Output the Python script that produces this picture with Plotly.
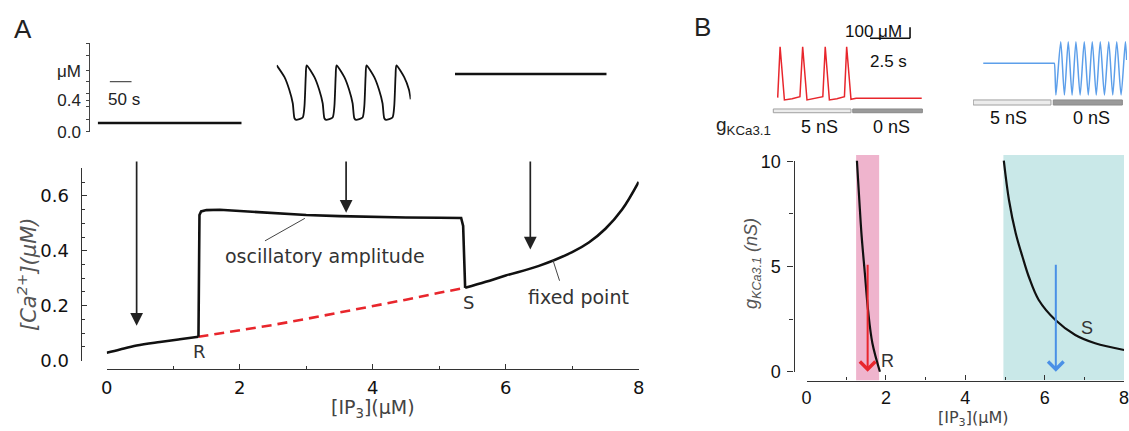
import plotly.graph_objects as go

W, H = 1129, 431
def fx(px): return px / W
def fy(py): return 1 - py / H

# ---------------- Panel A: bifurcation diagram data ----------------
ip3_stable_low = [0.0, 0.2, 0.45, 0.8, 1.1, 1.38]
ca_stable_low = [0.029, 0.041, 0.055, 0.068, 0.078, 0.087]

ip3_unstable = [1.38, 2.0, 2.5, 3.0, 3.5, 4.0, 4.5, 5.0, 5.39]
ca_unstable = [0.087, 0.110, 0.130, 0.152, 0.175, 0.198, 0.222, 0.247, 0.265]

ip3_stable_high = [5.39, 5.7, 6.0, 6.5, 7.0, 7.25, 7.5, 7.75, 8.0]
ca_stable_high = [0.265, 0.287, 0.310, 0.345, 0.395, 0.430, 0.480, 0.550, 0.651]

ip3_osc = [1.38, 1.385, 1.395, 1.42, 1.5, 1.7, 2.0, 2.5, 3.0, 3.5, 4.0, 4.5, 5.0, 5.33, 5.36, 5.39]
ca_osc_max = [0.087, 0.35, 0.53, 0.543, 0.548, 0.549, 0.544, 0.536, 0.530, 0.526, 0.523, 0.521, 0.520, 0.519, 0.49, 0.265]

arrow_ip3 = [0.45, 3.6, 6.37]
arrow_tip_ca = [0.127, 0.538, 0.405]
arrow_tail_ca = 0.73

# ---------------- Panel A: time-course insets ----------------
t_low = [0, 332]
c_low = [0.11, 0.11]

t_osc = [0, 18, 29, 37, 41, 45, 60, 64, 67,
         69, 87, 98, 106, 110, 114, 129, 133, 136,
         138, 156, 167, 175, 179, 183, 198, 202, 205,
         207, 225, 236, 244, 248, 252, 267, 271, 274,
         276, 294, 305, 309]
c_osc = [0.84, 0.69, 0.53, 0.36, 0.17, 0.15, 0.18, 0.32, 0.70,
         0.84, 0.69, 0.53, 0.36, 0.17, 0.15, 0.18, 0.32, 0.70,
         0.84, 0.69, 0.53, 0.36, 0.17, 0.15, 0.18, 0.32, 0.70,
         0.84, 0.69, 0.53, 0.36, 0.17, 0.15, 0.18, 0.32, 0.70,
         0.84, 0.69, 0.53, 0.41]

t_high = [0, 350]
c_high = [0.73, 0.73]

inset_tickvals = [0, 0.4, 0.77]
inset_ticktext = ["0.0", "0.4", "μM"]
timebar_s = [28, 78]          # 50 s scale bar
timebar_c = 0.633

# ---------------- Panel B: time-course insets ----------------
t_red = [0, 0.15, 0.42, 0.9, 1.39, 1.56, 1.83, 2.3, 2.82, 2.97, 3.23, 3.7, 4.17, 4.31, 4.58, 4.9, 9.0]
c_red = [185, 648, 164, 175, 194, 648, 164, 175, 194, 648, 164, 175, 194, 648, 170, 179, 179]

t_blue = [0, 4.40, 4.44, 4.54, 4.84, 5.07, 5.31, 5.55, 5.79, 6.05, 6.31, 6.56, 6.81, 7.06, 7.31,
          7.57, 7.84, 8.09, 8.34, 8.61, 8.88, 8.96]
c_blue = [497, 497, 497, 209, 694, 209, 694, 209, 694, 209, 694, 209, 694, 209, 694,
          209, 694, 209, 694, 209, 694, 527]

# g_KCa3.1 protocol bars (time spans in each inset)
red_on = [-0.275, 4.58]
red_off = [4.69, 9.04]
red_bar_c = [48, 82]
blue_on = [-0.625, 4.23]
blue_off = [4.375, 8.69]
blue_bar_c = [118, 164]

scale_t = [5.77, 8.27]   # 2.5 s
scale_c = [725, 825]     # 100 uM

# ---------------- Panel B: g_KCa3.1 vs IP3 ----------------
ip3_R = [1.27, 1.33, 1.39, 1.47, 1.55, 1.66, 1.85]
g_R = [10, 8.14, 6.4, 4.66, 2.92, 1.35, 0]
ip3_S = [4.97, 5.1, 5.27, 5.44, 5.6, 5.85, 6.27, 6.77, 7.27, 8.0]
g_S = [10, 8.14, 6.56, 5.45, 4.5, 3.4, 2.45, 1.74, 1.35, 1.03]
band_R = [1.25, 1.83]
band_S = [4.96, 8.0]
arrowB_ip3 = [1.54, 6.28]
arrowB_from = 5.14
arrowB_to = 0.0

# ---------------- styling ----------------
DV = "DejaVu Sans"
AR = "Liberation Sans, Arial"
AXC = "#333333"
RED = "#e8262c"
BLUE = "#5d9fea"
BLUE_ARR = "#4a90e6"

fig = go.Figure()

# Panel A main
fig.add_trace(go.Scatter(x=ip3_unstable, y=ca_unstable, mode="lines",
                         line=dict(color=RED, width=2.6, dash="10px,6px"), xaxis="x", yaxis="y"))
fig.add_trace(go.Scatter(x=ip3_stable_low, y=ca_stable_low, mode="lines",
                         line=dict(color="#111", width=2.6, shape="spline"), xaxis="x", yaxis="y"))
fig.add_trace(go.Scatter(x=ip3_stable_high, y=ca_stable_high, mode="lines",
                         line=dict(color="#111", width=2.6, shape="spline", smoothing=1.0), xaxis="x", yaxis="y"))
fig.add_trace(go.Scatter(x=ip3_osc, y=ca_osc_max, mode="lines",
                         line=dict(color="#111", width=2.6), xaxis="x", yaxis="y"))
fig.add_trace(go.Scatter(x=[None], y=[None], xaxis="x", yaxis="y2"))

# Panel A insets
fig.add_trace(go.Scatter(x=t_low, y=c_low, mode="lines", line=dict(color="#111", width=2.6),
                         xaxis="x3", yaxis="y3"))
fig.add_trace(go.Scatter(x=t_osc, y=c_osc, mode="lines", line=dict(color="#111", width=1.8, shape="spline", smoothing=0.6),
                         xaxis="x4", yaxis="y3"))
fig.add_trace(go.Scatter(x=t_high, y=c_high, mode="lines", line=dict(color="#111", width=2.6),
                         xaxis="x5", yaxis="y3"))

# Panel B insets
fig.add_trace(go.Scatter(x=t_red, y=c_red, mode="lines", line=dict(color=RED, width=1.5),
                         xaxis="x6", yaxis="y6"))
fig.add_trace(go.Scatter(x=t_blue, y=c_blue, mode="lines", line=dict(color=BLUE, width=1.5, shape="spline", smoothing=0.7),
                         xaxis="x7", yaxis="y6"))

# Panel B main
fig.add_trace(go.Scatter(x=ip3_R, y=g_R, mode="lines", line=dict(color="#111", width=2.2, shape="spline"),
                         xaxis="x8", yaxis="y8"))
fig.add_trace(go.Scatter(x=ip3_S, y=g_S, mode="lines", line=dict(color="#111", width=2.2, shape="spline"),
                         xaxis="x8", yaxis="y8"))
fig.add_trace(go.Scatter(x=[None], y=[None], xaxis="x8", yaxis="y9"))

fig.update_traces(showlegend=False, hoverinfo="skip")

# ---- axes ----
A_ylo = -(369.3 - 360.7) / 275.0
B_ylo = -(380.5 - 371.7) / 21.1
B_yhi = (371.7 - 155.0) / 21.1
INS_B_PX = 0.11          # px per uM in panel-B insets

common_x = dict(showgrid=False, zeroline=False, automargin=False)
layout_axes = dict(
    xaxis=dict(domain=[fx(106.7), fx(638.7)], range=[0, 8], anchor="y", showline=True,
               linecolor=AXC, linewidth=1.3, ticks="inside", ticklen=5, tickwidth=1.3, tickcolor=AXC,
               tickvals=[0, 2, 4, 6, 8], ticktext=["0", "2", "4", "6", "8"],
               minor=dict(tickvals=[1, 3, 5, 7], ticks="inside", ticklen=3, tickcolor=AXC, tickwidth=1.1),
               tickfont=dict(family=DV, size=18, color="#111"), ticklabelstandoff=2, **common_x),
    yaxis=dict(domain=[fy(369.3), fy(168.3)], range=[A_ylo, 0.70], anchor="x", visible=False, **common_x),
    yaxis2=dict(domain=[fy(360.7), fy(168.3)], range=[0, 0.70], anchor="free", position=fx(80.7),
                showline=True, linecolor=AXC, linewidth=1.3, ticks="inside", ticklen=5, tickwidth=1.3,
                tickcolor=AXC, tickvals=[0, 0.2, 0.4, 0.6], ticktext=["0.0", "0.2", "0.4", "0.6"],
                minor=dict(tickvals=[0.05, 0.1, 0.15, 0.25, 0.3, 0.35, 0.45, 0.5, 0.55, 0.65, 0.7],
                           ticks="inside", ticklen=3, tickcolor=AXC, tickwidth=1.1),
                tickfont=dict(family=DV, size=18, color="#111"), ticklabelstandoff=8, **common_x),
    # Panel A insets
    yaxis3=dict(domain=[fy(131.7), fy(42.7)], range=[0, 1.127], anchor="free", position=fx(89.3),
                showline=True, linecolor="#444", linewidth=1.1, ticks="outside", ticklen=3, tickcolor="#444",
                tickvals=inset_tickvals, ticktext=inset_ticktext,
                minor=dict(tickvals=[0.16, 0.32, 0.48, 0.64, 0.96, 1.12], ticks="outside", ticklen=3, tickcolor="#444"),
                tickfont=dict(family=AR, size=17, color="#222"), ticklabelstandoff=2, **common_x),
    xaxis3=dict(domain=[fx(97.7), fx(241.7)], range=[0, 332], anchor="y3", visible=False, **common_x),
    xaxis4=dict(domain=[fx(276.7), fx(410.7)], range=[0, 309], anchor="y3", visible=False, **common_x),
    xaxis5=dict(domain=[fx(455.0), fx(606.7)], range=[0, 350], anchor="y3", visible=False, **common_x),
    # Panel B insets
    yaxis6=dict(domain=[fy(142), fy(20)], range=[-24 / INS_B_PX, 98 / INS_B_PX], anchor="x6", visible=False, **common_x),
    xaxis6=dict(domain=[fx(761.7), fx(923)], range=[-1.0, 9.08], anchor="y6", visible=False, **common_x),
    xaxis7=dict(domain=[fx(973), fx(1127)], range=[-0.64, 8.98], anchor="y6", visible=False, **common_x),
    # Panel B main
    xaxis8=dict(domain=[fx(806.5), fx(1124.1)], range=[0, 8], anchor="y8", showline=True,
                linecolor=AXC, linewidth=1.3, ticks="inside", ticklen=5, tickwidth=1.3, tickcolor=AXC,
                tickvals=[0, 2, 4, 6, 8], ticktext=["0", "2", "4", "6", "8"], ticklabeloverflow="allow",
                minor=dict(tickvals=[1, 3, 5, 7], ticks="inside", ticklen=3, tickcolor=AXC, tickwidth=1.1),
                tickfont=dict(family=AR, size=18, color="#111"), ticklabelstandoff=1, **common_x),
    yaxis8=dict(domain=[fy(380.5), fy(155)], range=[B_ylo, B_yhi], anchor="x8", visible=False, **common_x),
    yaxis9=dict(domain=[fy(371.7), fy(161.2)], range=[0, 10], anchor="free", position=fx(793.5),
                showline=True, linecolor=AXC, linewidth=1.3, ticks="outside", ticklen=6, tickwidth=1.3,
                tickcolor=AXC, tickvals=[0, 5, 10], ticktext=["0", "5", "10"],
                minor=dict(tickvals=[2.5, 7.5], ticks="outside", ticklen=4, tickcolor=AXC, tickwidth=1.1),
                tickfont=dict(family=AR, size=18, color="#111"), ticklabelstandoff=3, **common_x),
)

shapes = []
# bands (panel B)
shapes.append(dict(type="rect", xref="x8", yref="y8", x0=band_R[0], x1=band_R[1], y0=B_ylo, y1=B_yhi,
                   fillcolor="#efb4cd", line=dict(width=0), layer="below"))
shapes.append(dict(type="rect", xref="x8", yref="y8", x0=band_S[0], x1=band_S[1], y0=B_ylo, y1=B_yhi,
                   fillcolor="#c9e8e8", line=dict(width=0), layer="below"))
# leader lines (panel A)
shapes.append(dict(type="line", xref="x", yref="y", x0=2.38, y0=0.436, x1=2.98, y1=0.518,
                   line=dict(color="#444", width=1)))
shapes.append(dict(type="line", xref="x", yref="y", x0=6.81, y0=0.291, x1=6.71, y1=0.366,
                   line=dict(color="#444", width=1)))
# 50 s bar
shapes.append(dict(type="line", xref="x3", yref="y3", x0=timebar_s[0], x1=timebar_s[1], y0=timebar_c, y1=timebar_c,
                   line=dict(color="#555", width=1.2)))
# protocol bars
for xr, span, cy in [("x6", red_on, red_bar_c), ("x7", blue_on, blue_bar_c)]:
    shapes.append(dict(type="rect", xref=xr, yref="y6", x0=span[0], x1=span[1], y0=cy[0], y1=cy[1],
                       fillcolor="#ececec", line=dict(color="#a0a0a0", width=1)))
for xr, span, cy in [("x6", red_off, red_bar_c), ("x7", blue_off, blue_bar_c)]:
    shapes.append(dict(type="rect", xref=xr, yref="y6", x0=span[0], x1=span[1], y0=cy[0], y1=cy[1],
                       fillcolor="#9a9a9a", line=dict(color="#8a8a8a", width=1)))
# 100 uM / 2.5 s scale bar
shapes.append(dict(type="line", xref="x6", yref="y6", x0=scale_t[1], x1=scale_t[1], y0=scale_c[0], y1=scale_c[1],
                   line=dict(color="#111", width=1.6)))
shapes.append(dict(type="line", xref="x6", yref="y6", x0=scale_t[0], x1=scale_t[1], y0=scale_c[0], y1=scale_c[0],
                   line=dict(color="#111", width=1.6)))

ann = []
def txt(text, x, y, xref, yref, size=16, family=DV, color="#333", **kw):
    d = dict(text=text, x=x, y=y, xref=xref, yref=yref, showarrow=False,
             xanchor="center", yanchor="middle",
             font=dict(family=family, size=size, color=color))
    d.update(kw)
    ann.append(d)

# Panel A arrows
for xa, tip in zip(arrow_ip3, arrow_tip_ca):
    ann.append(dict(x=xa, y=tip, ax=xa, ay=arrow_tail_ca, xref="x", yref="y", axref="x", ayref="y",
                    text="", showarrow=True, arrowhead=2, arrowsize=1.5, arrowwidth=1.7, arrowcolor="#222",
                    standoff=0))
# Panel B arrows
for xa, col in zip(arrowB_ip3, [RED, BLUE_ARR]):
    ann.append(dict(x=xa, y=arrowB_to, ax=xa, ay=arrowB_from, xref="x8", yref="y8", axref="x8", ayref="y8",
                    text="", showarrow=True, arrowhead=4, arrowsize=1.5, arrowwidth=2, arrowcolor=col,
                    standoff=0))

txt("R", 1.40, 0.033, "x", "y", size=18)
txt("S", 5.44, 0.21, "x", "y", size=18)
txt("oscillatory amplitude", 3.28, 0.38, "x", "y", size=19)
txt("fixed point", 7.09, 0.233, "x", "y", size=19)
txt("50 s", 60.6, 0.414, "x3", "y3", size=17, family=AR, color="#222")

txt("[IP<sub>3</sub>](μM)", fx(373), fy(408), "paper", "paper", size=19, color="#444")
txt("<i>[Ca<sup>2+</sup>](μM)</i>", fx(27), fy(275), "paper", "paper", size=21, color="#555", textangle=-90)
txt("[IP<sub>3</sub>](μM)", fx(973), fy(418.5), "paper", "paper", size=16, color="#444")
txt("<i>g<sub>KCa3.1</sub> (nS)</i>", fx(752), fy(264), "paper", "paper", size=18, family=AR, color="#555",
    textangle=-90)
txt("A", fx(23), fy(29), "paper", "paper", size=26, family=AR, color="#222")
txt("B", fx(702), fy(27), "paper", "paper", size=26, family=AR, color="#222")

txt("R", 2.05, 0.52, "x8", "y8", size=18, family=AR)
txt("S", 7.07, 2.06, "x8", "y8", size=18, family=AR)

txt("100 μM", 7.9, 782, "x6", "y6", size=17, family=AR, color="#111", xanchor="right")
txt("2.5 s", 6.95, 512, "x6", "y6", size=17, family=AR, color="#111")
txt("5 nS", 2.6, -79, "x6", "y6", size=18, family=AR, color="#111")
txt("0 nS", 7.13, -79, "x6", "y6", size=18, family=AR, color="#111")
txt("g<sub>KCa3.1</sub>", -0.29, -76, "x6", "y6", size=19, family=AR, color="#222", xanchor="right")
txt("5 nS", 1.56, -3, "x7", "y6", size=18, family=AR, color="#111")
txt("0 nS", 6.78, -3, "x7", "y6", size=18, family=AR, color="#111")

fig.update_layout(width=W, height=H, autosize=False,
                  margin=dict(l=0, r=0, t=0, b=0, pad=0, autoexpand=False),
                  paper_bgcolor="white", plot_bgcolor="rgba(0,0,0,0)",
                  shapes=shapes, annotations=ann, showlegend=False, **layout_axes)

page_fix = ("document.documentElement.style.margin='0';document.documentElement.style.padding='0';"
            "document.documentElement.style.overflow='hidden';document.body.style.margin='0';"
            "document.body.style.padding='0';document.body.style.overflow='hidden';")
fig.write_html("out.html", post_script=page_fix, config={"displayModeBar": False})
